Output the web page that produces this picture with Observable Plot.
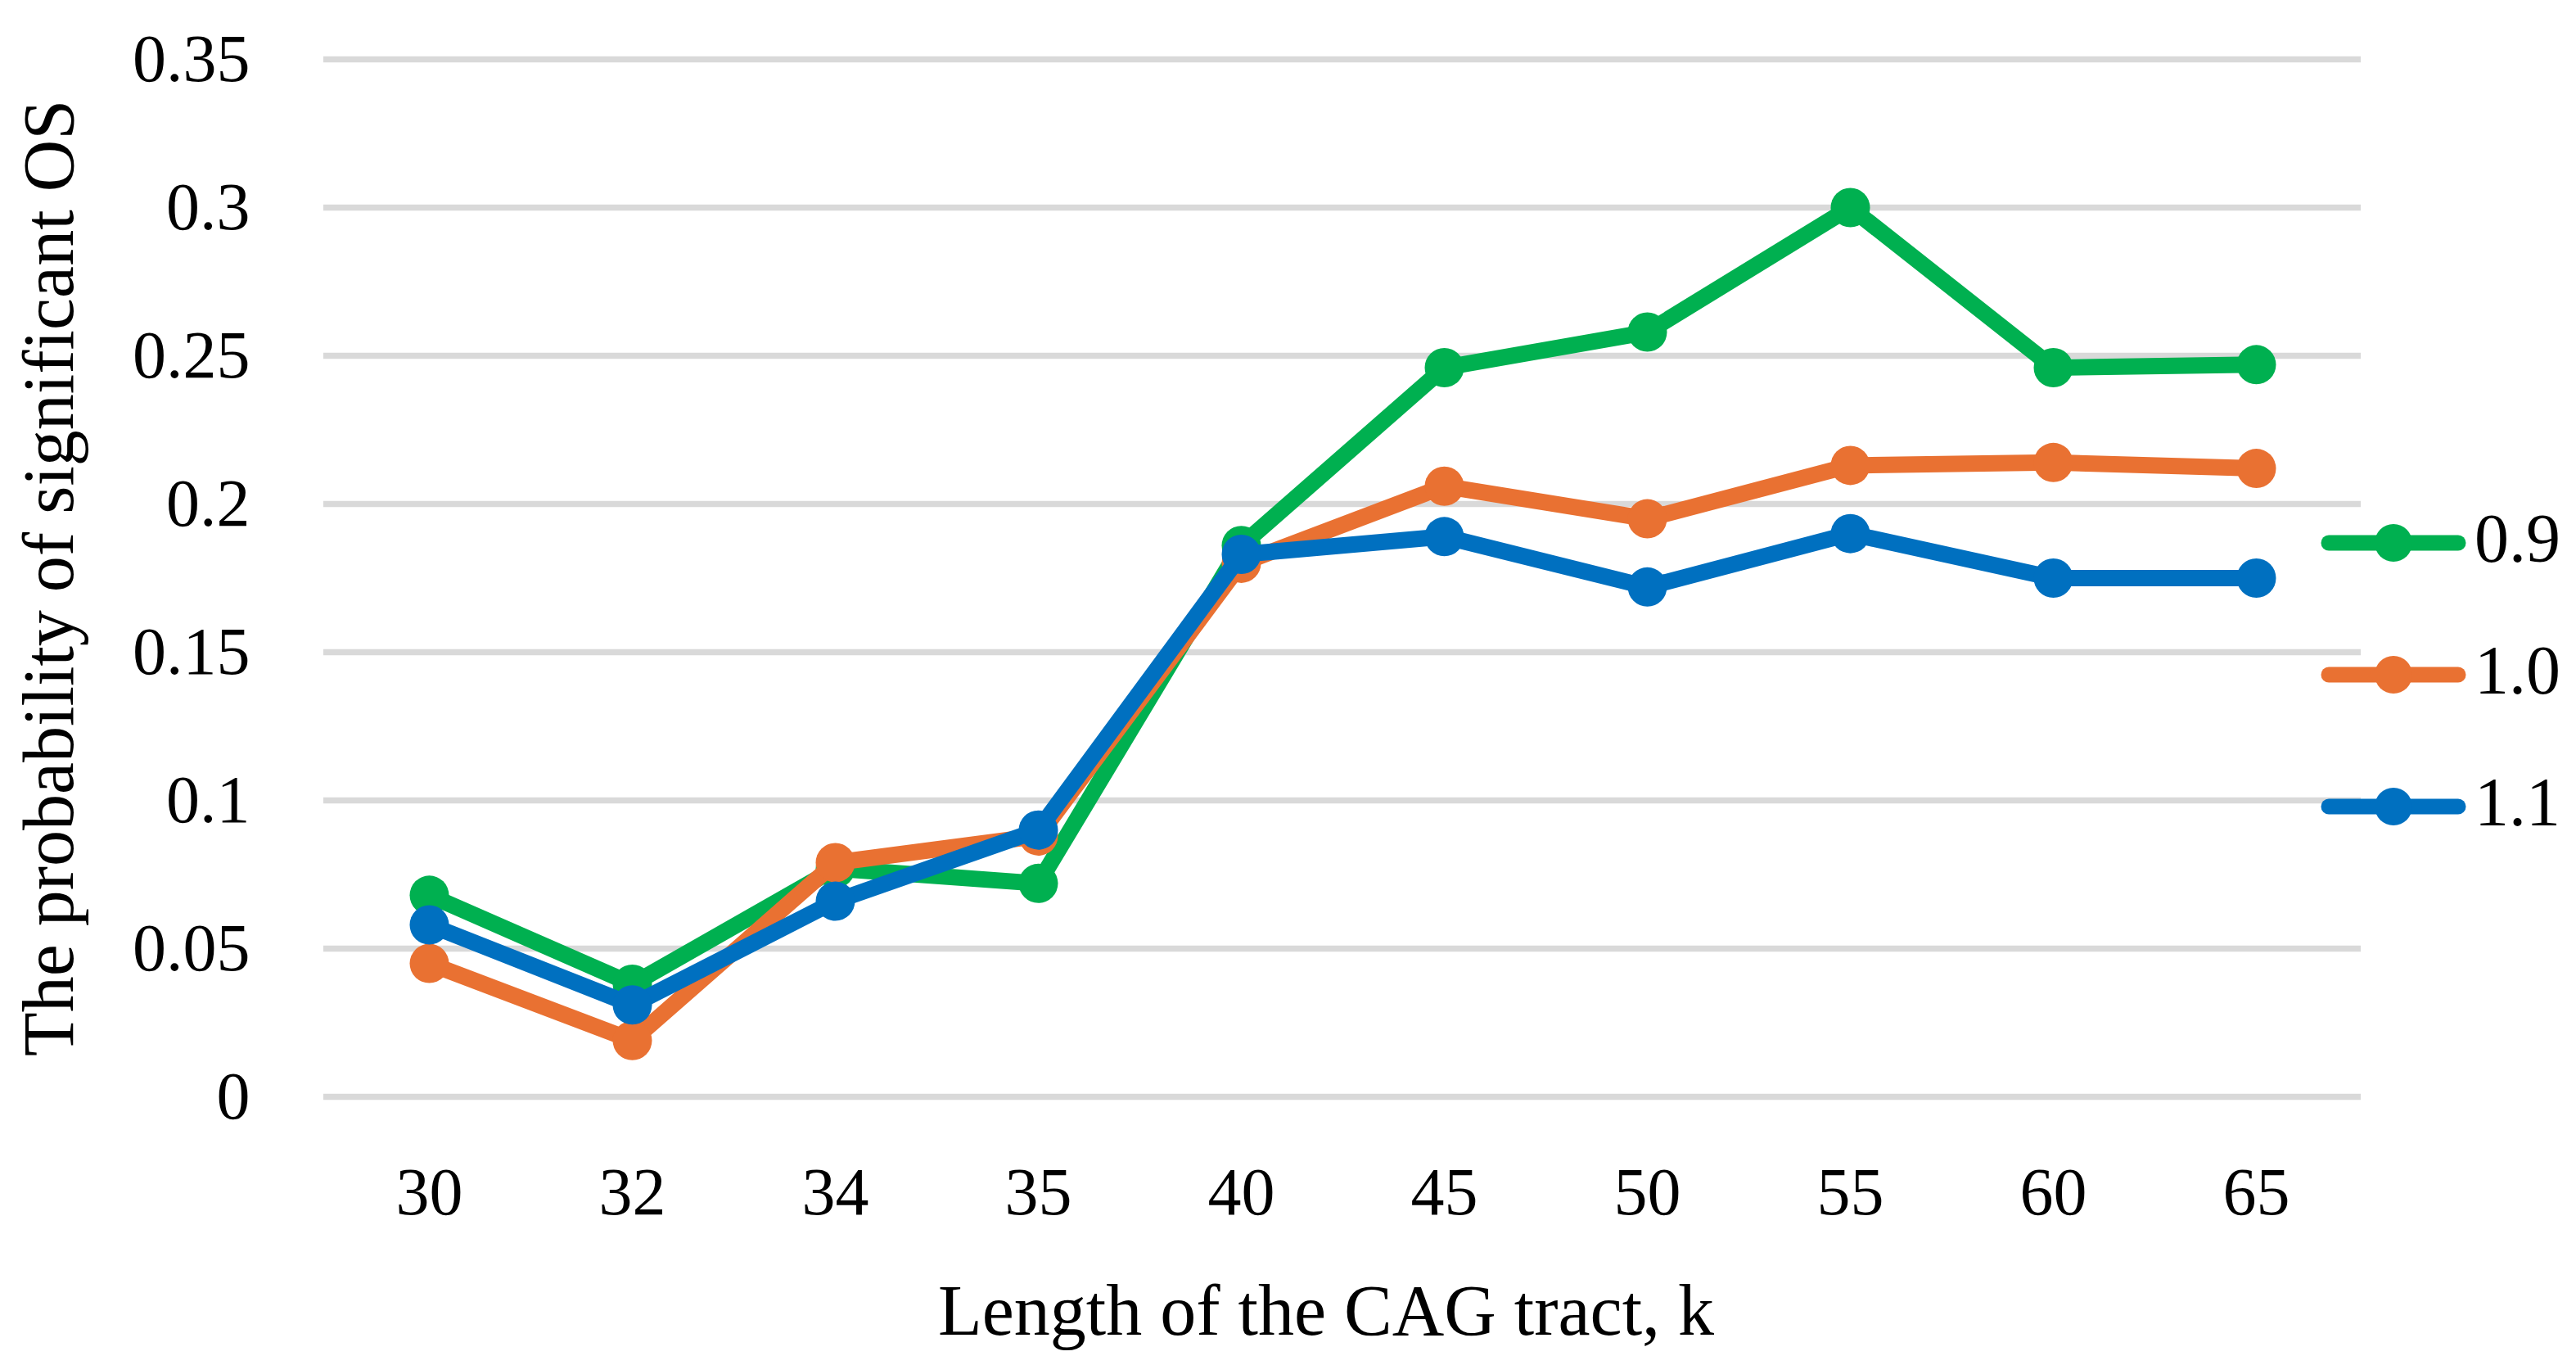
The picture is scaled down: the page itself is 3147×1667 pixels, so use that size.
<!DOCTYPE html>
<html>
<head>
<meta charset="utf-8">
<script src="https://cdn.jsdelivr.net/npm/d3@7"></script>
<script src="https://cdn.jsdelivr.net/npm/@observablehq/plot@0.6"></script>
<style>
  html, body { margin: 0; padding: 0; background: #fff; }
  #wrap { position: relative; width: 3147px; height: 1667px; }
  #legend { position: absolute; left: 2835px; top: 582px; font-family: "Liberation Serif", serif; font-size: 84px; color: #000; }
  .row { display: flex; align-items: center; height: 161px; }
  .row span { margin-left: 10px; line-height: 1; position: relative; top: -5px; }
</style>
</head>
<body>
<div id="wrap"><div id="legend"></div></div>
<script>
const categories = ["30", "32", "34", "35", "40", "45", "50", "55", "60", "65"];
const seriesNames = ["0.9", "1.0", "1.1"];
const seriesColors = ["#00B050", "#E97132", "#0070C0"];
const s09 = [0.068, 0.038, 0.077, 0.072, 0.186, 0.246, 0.258, 0.300, 0.246, 0.247];
const s10 = [0.045, 0.019, 0.079, 0.088, 0.180, 0.206, 0.195, 0.213, 0.214, 0.212];
const s11 = [0.058, 0.031, 0.066, 0.090, 0.183, 0.189, 0.172, 0.190, 0.175, 0.175];
const yTicks = [0, 0.05, 0.1, 0.15, 0.2, 0.25, 0.3, 0.35];
const yTickLabels = ["0", "0.05", "0.1", "0.15", "0.2", "0.25", "0.3", "0.35"];
const xTitle = "Length of the CAG tract, k";
const yTitle = "The probability of significant OS";

const seriesValues = [s09, s10, s11];
const marks = [Plot.ruleY(yTicks, {stroke: "#D9D9D9", strokeWidth: 7.5})];
seriesValues.forEach((vals, i) => {
  const data = categories.map((c, j) => ({k: c, v: vals[j]}));
  marks.push(Plot.line(data, {x: "k", y: "v", stroke: seriesColors[i], strokeWidth: 20, strokeLinejoin: "round", strokeLinecap: "round"}));
  marks.push(Plot.dot(data, {x: "k", y: "v", r: 24, fill: seriesColors[i], stroke: "none"}));
});
marks.push(Plot.text([xTitle], {frameAnchor: "bottom", textAnchor: "middle", lineAnchor: "middle", dy: 262, dx: -20, fontSize: 88, text: d => d}));
marks.push(Plot.text([yTitle], {frameAnchor: "left", textAnchor: "middle", lineAnchor: "middle", rotate: -90, dx: -335, fontSize: 88, text: d => d}));

const chart = Plot.plot({
  width: 3147,
  height: 1667,
  marginLeft: 395,
  marginRight: 263,
  marginTop: 72,
  marginBottom: 328,
  style: {fontFamily: "Liberation Serif", fontSize: "82px", background: "#fff", color: "#000"},
  x: {type: "point", domain: categories, padding: 0.5, tickSize: 0, tickPadding: 85, label: null},
  y: {domain: [0, 0.35], ticks: yTicks, tickFormat: (d) => yTickLabels[yTicks.indexOf(d)], tickSize: 0, tickPadding: 90, label: null},
  marks
});
document.getElementById("wrap").insertBefore(chart, document.getElementById("legend"));
const svgEl = chart.tagName.toLowerCase() === "svg" ? chart : chart.querySelector("svg");
svgEl.style.display = "block";

const legend = d3.select("#legend");
seriesNames.forEach((name, i) => {
  const row = legend.append("div").attr("class", "row");
  const s = row.append("svg").attr("width", 178).attr("height", 48);
  s.append("line").attr("x1", 10).attr("x2", 168).attr("y1", 24).attr("y2", 24)
    .attr("stroke", seriesColors[i]).attr("stroke-width", 19).attr("stroke-linecap", "round");
  s.append("circle").attr("cx", 89).attr("cy", 24).attr("r", 23).attr("fill", seriesColors[i]);
  row.append("span").text(name);
});
</script>
</body>
</html>
